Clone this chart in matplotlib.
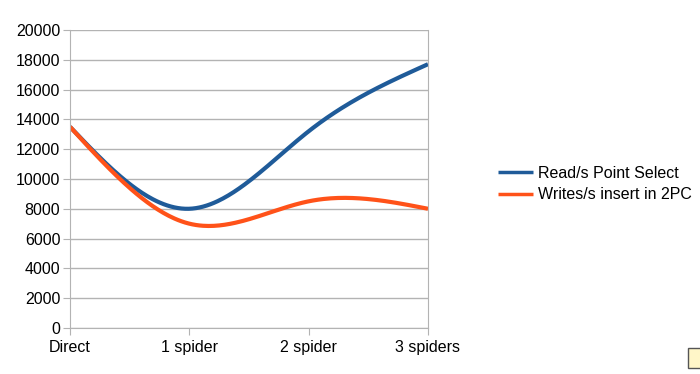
import numpy as np
import matplotlib.pyplot as plt
from matplotlib.patches import Rectangle

categories = ["Direct", "1 spider", "2 spider", "3 spiders"]
reads = [13500, 8000, 13200, 17700]
writes = [13500, 7000, 8500, 8000]
series_names = ["Read/s Point Select", "Writes/s insert in 2PC"]

plt.rcParams['font.family'] = ['Liberation Sans', 'DejaVu Sans']


def natural_spline(x, y, n=200):
    # natural cubic spline, same as the office chart smoothing
    x = np.asarray(x, float)
    y = np.asarray(y, float)
    k = len(x)
    h = np.diff(x)
    A = np.zeros((k, k))
    b = np.zeros(k)
    A[0, 0] = A[-1, -1] = 1
    for i in range(1, k - 1):
        A[i, i - 1] = h[i - 1]
        A[i, i] = 2 * (h[i - 1] + h[i])
        A[i, i + 1] = h[i]
        b[i] = 3 * ((y[i + 1] - y[i]) / h[i] - (y[i] - y[i - 1]) / h[i - 1])
    c = np.linalg.solve(A, b)
    xs = np.linspace(x[0], x[-1], n)
    ys = np.empty_like(xs)
    for j, t in enumerate(xs):
        i = min(np.searchsorted(x, t, side='right') - 1, k - 2)
        d = t - x[i]
        bi = (y[i + 1] - y[i]) / h[i] - h[i] * (2 * c[i] + c[i + 1]) / 3
        di = (c[i + 1] - c[i]) / (3 * h[i])
        ys[j] = y[i] + bi * d + c[i] * d ** 2 + di * d ** 3
    return xs, ys


fig = plt.figure(figsize=(7, 3.74), dpi=100)
ax = fig.add_axes([0.1, 0.123, 0.5114, 0.797])

xpos = np.arange(len(categories))
grid_col = "#b3b3b3"

for vals, col, name in [(reads, "#1f5b99", series_names[0]),
                        (writes, "#ff5219", series_names[1])]:
    xs, ys = natural_spline(xpos, vals)
    ax.plot(xs, ys, color=col, linewidth=3.0, label=name, solid_capstyle='butt')

ax.set_xlim(0, 3)
ax.set_ylim(0, 20000)
ax.set_yticks(range(0, 20001, 2000))
ax.set_xticks(xpos)
ax.set_xticklabels(categories)
ax.yaxis.grid(True, color=grid_col, linewidth=1)
ax.set_axisbelow(True)
for s in ["left", "right", "bottom"]:
    ax.spines[s].set_color(grid_col)
ax.spines["top"].set_visible(False)
ax.tick_params(axis='x', colors=grid_col, labelcolor='black', labelsize=11.5, length=5,
               direction='out', pad=4)
ax.tick_params(axis='y', colors=grid_col, labelcolor='black', labelsize=11.5, length=5,
               direction='out', pad=2)

leg = ax.legend(loc='center left', bbox_to_anchor=(1.155, 0.483), frameon=False,
                fontsize=11.5, handlelength=2.2, handletextpad=0.33, labelspacing=0.4)
for line in leg.get_lines():
    line.set_linewidth(2.5)

# small tooltip artifact in the corner
fig.patches.append(Rectangle((688 / 700, 1 - 368 / 374), 14 / 700, 20 / 374,
                             transform=fig.transFigure, facecolor="#fff6c8",
                             edgecolor="#555555", linewidth=1))

fig.savefig("out.png", dpi=100)
